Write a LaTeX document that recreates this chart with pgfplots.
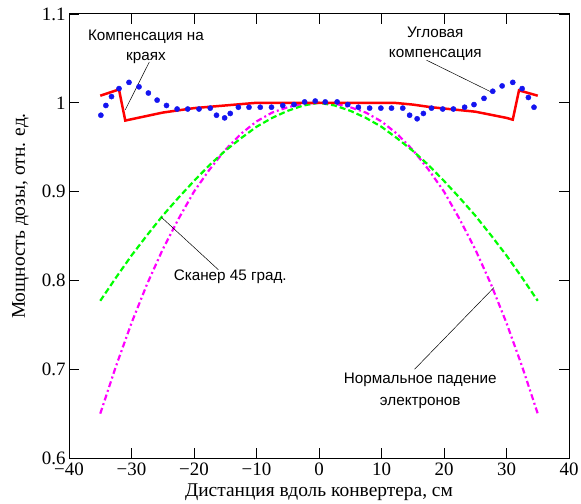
\documentclass[border=0pt]{standalone}
\usepackage{fontspec}
\setmainfont{Liberation Serif}
\newfontfamily\annfont{Liberation Sans}
\usepackage{pgfplots}
\pgfplotsset{compat=1.18}
\definecolor{dotblue}{RGB}{20,20,240}
\definecolor{mag}{RGB}{255,0,255}
\definecolor{grn}{RGB}{0,255,0}
\begin{document}
\begin{tikzpicture}
\begin{axis}[name=ax, scale only axis, width=500bp, height=444bp,
  xmin=-40, xmax=40, ymin=0.6, ymax=1.1,
  xtick={-40,-30,...,40}, xticklabels={−40,−30,−20,−10,0,10,20,30,40},
  ytick={0.6,0.7,0.8,0.9,1,1.1}, yticklabels={0.6,0.7,0.8,0.9,1,1.1},
  tick align=inside, major tick length=10bp,
  tick style={black, line width=0.9pt},
  axis line style={line width=1pt},
  ticklabel style={font=\fontsize{19}{21}\selectfont},
  xticklabel style={yshift=-1bp},
  xlabel={Дистанция вдоль конвертера, см},
  ylabel={Мощность дозы, отн. ед.},
  label style={font=\fontsize{19.5}{21}\selectfont},
  xlabel style={yshift=-2bp},
  ylabel style={yshift=6bp, xshift=20bp},
  clip=false,
]
% Normal incidence (magenta dash-dot)
\addplot[mag, line width=2.2pt, dash pattern=on 6bp off 3bp on 2bp off 3bp] coordinates {
(-35,0.650) (-32.5,0.703) (-30,0.752) (-27.5,0.796) (-25,0.835) (-22.5,0.869)
(-20,0.900) (-17.5,0.925) (-15,0.947) (-12.5,0.965) (-10,0.979) (-7.5,0.989)
(-5,0.995) (-2.5,0.999) (0,1.000) (2.5,0.999) (5,0.995) (7.5,0.989) (10,0.979)
(12.5,0.965) (15,0.947) (17.5,0.925) (20,0.900) (22.5,0.869) (25,0.835)
(27.5,0.796) (30,0.752) (32.5,0.703) (35,0.650)};
% Scanner 45 deg (green dashed)
\addplot[grn, line width=2.2pt, dash pattern=on 6bp off 3bp] coordinates {
(-35,0.777) (-32.5,0.803) (-30,0.828) (-27.5,0.851) (-25,0.873) (-22.5,0.893)
(-20,0.912) (-17.5,0.930) (-15,0.946) (-12.5,0.960) (-10,0.973) (-7.5,0.983)
(-5,0.991) (-2.5,0.997) (0,1.000) (2.5,0.997) (5,0.991) (7.5,0.983) (10,0.973)
(12.5,0.960) (15,0.946) (17.5,0.930) (20,0.912) (22.5,0.893) (25,0.873)
(27.5,0.851) (30,0.828) (32.5,0.803) (35,0.777)};
% Edge compensation (red solid)
\addplot[red, line width=2.5pt] coordinates {
(-35,1.008) (-32,1.015) (-31,0.980) (-25,0.989) (-20,0.994) (-15,0.997)
(-10,1.000) (0,1.000) (12,1.000) (15,0.998) (18,0.995) (25,0.990)
(30,0.983) (31,0.981) (32,1.014) (35,1.008)};
% Angular compensation (blue dots)
\addplot[only marks, mark=*, mark size=2.6bp, color=dotblue] coordinates {
(-34.9,0.986) (-34.1,0.997) (-33.2,1.007) (-32.0,1.016) (-30.4,1.023)
(-28.8,1.018) (-27.3,1.011) (-25.9,1.003) (-24.4,0.997) (-22.7,0.993)
(-21.0,0.993) (-19.2,0.993) (-17.4,0.994) (-16.4,0.986) (-15.1,0.983)
(-14.2,0.988) (-12.9,0.995) (-11.2,0.995) (-9.4,0.995) (-7.6,0.995)
(-5.8,0.997) (-4.0,0.998) (-2.3,1.001) (-0.6,1.002)
(1.0,1.001) (2.9,1.001) (4.6,0.998) (6.3,0.995) (8.1,0.994) (9.9,0.994)
(11.6,0.994) (13.4,0.994) (14.5,0.986) (15.7,0.982) (16.7,0.988)
(18.0,0.994) (19.8,0.993) (21.5,0.993) (23.3,0.995) (24.8,0.998)
(26.4,1.005) (27.8,1.013) (29.3,1.019) (31.0,1.023) (32.5,1.016)
(33.5,1.006) (34.4,0.995)};
% annotations
\draw[black, line width=0.5pt] (axis cs:-27.15,1.046) -- (axis cs:-31.0,0.992);
\draw[black, line width=0.5pt] (axis cs:17.2,1.048) -- (axis cs:27.6,1.012);
\draw[black, line width=0.5pt] (axis cs:-25.2,0.871) -- (axis cs:-16.1,0.812);
\draw[black, line width=0.5pt] (axis cs:28.0,0.792) -- (axis cs:15.3,0.700);
\node[font=\annfont\fontsize{15.3}{20}\selectfont, align=center] at (axis cs:-27.7,1.0634) {Компенсация на\\краях};
\node[font=\annfont\fontsize{15.3}{20}\selectfont, align=center] at (axis cs:18.6,1.0668) {Угловая\\компенсация};
\node[font=\annfont\fontsize{15.3}{20}\selectfont] at (axis cs:-14.2,0.8038) {Сканер 45 град.};
\node[font=\annfont\fontsize{15.3}{22}\selectfont, align=center] at (axis cs:16.2,0.6755) {Нормальное падение\\электронов};
\end{axis}
\pgfresetboundingbox
\path ([shift={(-69bp,-45bp)}]ax.south west) rectangle ([shift={(12bp,14bp)}]ax.north east);
\end{tikzpicture}
\end{document}
